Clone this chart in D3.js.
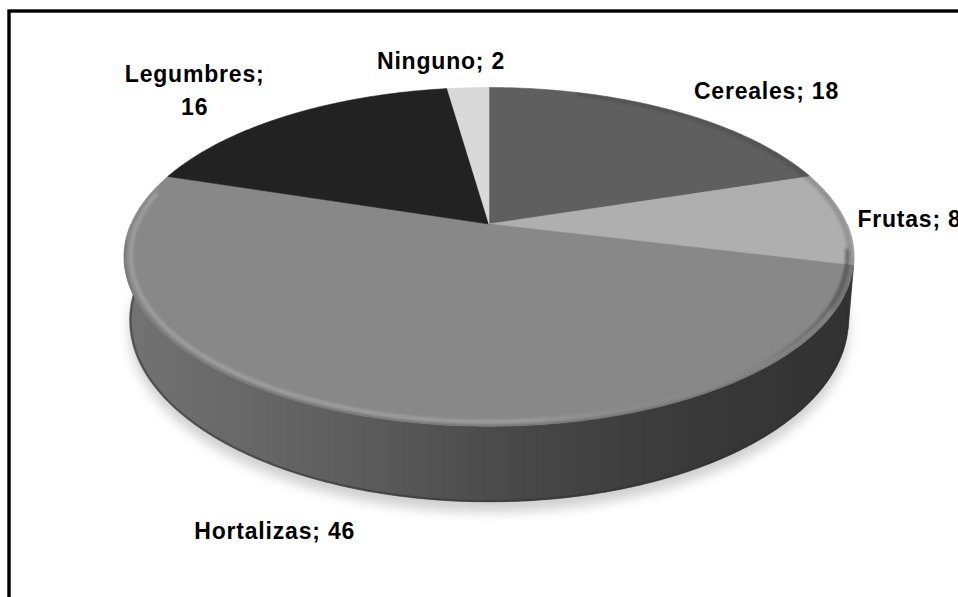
<!DOCTYPE html>
<html>
<head>
<meta charset="utf-8">
<script src="https://cdn.jsdelivr.net/npm/d3@7"></script>
<style>
  html, body { margin: 0; padding: 0; background: #fff; }
  svg { display: block; }
  .lbl { font-family: "Liberation Sans", Arial, sans-serif; font-weight: bold; font-size: 23px; letter-spacing: 0.8px; fill: #000; }
</style>
</head>
<body>
<svg id="chart" width="958" height="597"></svg>
<script>
// data
var categories = ["Cereales", "Frutas", "Hortalizas", "Legumbres", "Ninguno"];
var values = [18, 8, 46, 16, 2];

// styles
var topColors = ["#5f5f5f", "#afafaf", "#888888", "#222222", "#d9d9d9"];
var wallColors = ["#3a3a3a", "#5c5c5c", "url(#wallGrad)", "#1a1a1a", "#9a9a9a"];

// label placement, relative to the slice mid point on the rim
var labelLayout = {
    Cereales:   { anchor: "start",  dx: 23,  dy: -11 },
    Frutas:     { anchor: "start",  dx: 13,  dy: 9 },
    Hortalizas: { anchor: "middle", dx: -93, dy: 122 },
    Legumbres:  { anchor: "middle", dx: -94, dy: -33, wrap: true },
    Ninguno:    { anchor: "middle", dx: -27, dy: -19 }
};

var svg = d3.select("#chart");

// 3d pie geometry (perspective view of a flat cylinder)
var cx = 489, cy = 224, rx = 358, ry = 163, depth = 61, persp = 0.194, shrink = 0.015;

function proj(a, r, h) {
    var u = r * Math.sin(a), v = -r * Math.cos(a);
    var s = 1 / (1 - persp * v);
    return [cx + rx * u * s * (1 - shrink * h), cy + (ry * v + depth * h) * s];
}

function arcPoints(a0, a1, r, h) {
    var n = Math.max(2, Math.ceil(Math.abs(a1 - a0) / 0.01));
    return d3.range(n + 1).map(function(i) { return proj(a0 + (a1 - a0) * i / n, r, h); });
}

var line = d3.line();

var defs = svg.append("defs");

var wg = defs.append("linearGradient").attr("id", "wallGrad")
    .attr("gradientUnits", "userSpaceOnUse")
    .attr("x1", cx - rx - 8).attr("x2", cx + rx + 8).attr("y1", 0).attr("y2", 0);
wg.append("stop").attr("offset", 0).attr("stop-color", "#737373");
wg.append("stop").attr("offset", 0.3).attr("stop-color", "#5e5e5e");
wg.append("stop").attr("offset", 0.55).attr("stop-color", "#474747");
wg.append("stop").attr("offset", 0.8).attr("stop-color", "#383838");
wg.append("stop").attr("offset", 1).attr("stop-color", "#323232");

var rg = defs.append("linearGradient").attr("id", "rimGrad")
    .attr("gradientUnits", "userSpaceOnUse")
    .attr("x1", cx - rx).attr("x2", cx + rx).attr("y1", 0).attr("y2", 0);
rg.append("stop").attr("offset", 0).attr("stop-color", "#b0b0b0").attr("stop-opacity", 0.7);
rg.append("stop").attr("offset", 0.55).attr("stop-color", "#ababab").attr("stop-opacity", 0.75);
rg.append("stop").attr("offset", 0.8).attr("stop-color", "#888").attr("stop-opacity", 0);
rg.append("stop").attr("offset", 1).attr("stop-color", "#2a2a2a").attr("stop-opacity", 0.6);

defs.append("filter").attr("id", "blurShadow")
    .attr("x", "-20%").attr("y", "-20%").attr("width", "140%").attr("height", "140%")
    .append("feGaussianBlur").attr("stdDeviation", 6);
defs.append("filter").attr("id", "blurRim")
    .attr("x", "-5%").attr("y", "-5%").attr("width", "110%").attr("height", "110%")
    .append("feGaussianBlur").attr("stdDeviation", 1.4);

defs.append("clipPath").attr("id", "topClip")
    .append("path").attr("d", line(arcPoints(0, 2 * Math.PI, 1, 0)) + "Z");

// outer frame
svg.append("rect")
    .attr("x", 9).attr("y", 11)
    .attr("width", 1000).attr("height", 700)
    .attr("fill", "none").attr("stroke", "#000").attr("stroke-width", 3.4);

var pie = d3.pie().sort(null).value(function(d) { return d; });
var arcs = pie(values);

// shadow
svg.append("path")
    .attr("d", line(arcPoints(0, 2 * Math.PI, 1.0, 1)) + "Z")
    .attr("transform", "translate(0,10)")
    .attr("fill", "#b0b0b0").attr("opacity", 0.6)
    .attr("filter", "url(#blurShadow)");

// outer walls (front half only)
var g = svg.append("g");
arcs.forEach(function(d, i) {
    var a0 = Math.max(d.startAngle, Math.PI / 2), a1 = Math.min(d.endAngle, 3 * Math.PI / 2);
    if (a1 <= a0) return;
    var pts = arcPoints(a0, a1, 1, 0).concat(arcPoints(a1, a0, 1, 1));
    g.append("path")
        .attr("d", line(pts) + "Z")
        .attr("fill", wallColors[i]).attr("stroke", wallColors[i]).attr("stroke-width", 0.5);
});

// bottom edge darkening
g.append("path")
    .attr("d", line(arcPoints(Math.PI / 2, 3 * Math.PI / 2, 0.997, 1)))
    .attr("fill", "none").attr("stroke", "#2e2e2e").attr("stroke-width", 2).attr("opacity", 0.5);

// top faces
arcs.forEach(function(d, i) {
    var pts = [proj(0, 0, 0)].concat(arcPoints(d.startAngle, d.endAngle, 1, 0));
    g.append("path")
        .attr("d", line(pts) + "Z")
        .attr("fill", topColors[i]).attr("stroke", topColors[i]).attr("stroke-width", 0.6);
});

// bevel rim
var rim = svg.append("g").attr("clip-path", "url(#topClip)");
rim.append("path")
    .attr("d", line(arcPoints(Math.PI / 2 + 0.2, 3 * Math.PI / 2 - 0.1, 1.003, 0)))
    .attr("fill", "none").attr("stroke", "#3a3a3a").attr("stroke-width", 2.5).attr("opacity", 0.45)
    .attr("filter", "url(#blurRim)");
rim.append("path")
    .attr("d", line(arcPoints(Math.PI / 2 + 0.15, 3 * Math.PI / 2 + 0.2, 0.982, 0)))
    .attr("fill", "none").attr("stroke", "url(#rimGrad)").attr("stroke-width", 3)
    .attr("filter", "url(#blurRim)");
rim.append("path")
    .attr("d", line(arcPoints(0.3, Math.PI / 2 + 0.5, 0.99, 0)))
    .attr("fill", "none").attr("stroke", "#2a2a2a").attr("stroke-width", 5).attr("opacity", 0.22)
    .attr("filter", "url(#blurRim)");

// labels
arcs.forEach(function(d, i) {
    var name = categories[i], L = labelLayout[name];
    var mid = (d.startAngle + d.endAngle) / 2;
    var p = proj(mid, 1, 0);
    var t = svg.append("text").attr("class", "lbl")
        .attr("text-anchor", L.anchor)
        .attr("x", p[0] + L.dx).attr("y", p[1] + L.dy);
    if (L.wrap) {
        t.append("tspan").attr("x", p[0] + L.dx).text(name + ";");
        t.append("tspan").attr("x", p[0] + L.dx).attr("dy", 33).text(values[i]);
    } else {
        t.text(name + "; " + values[i]);
    }
});
</script>
</body>
</html>
